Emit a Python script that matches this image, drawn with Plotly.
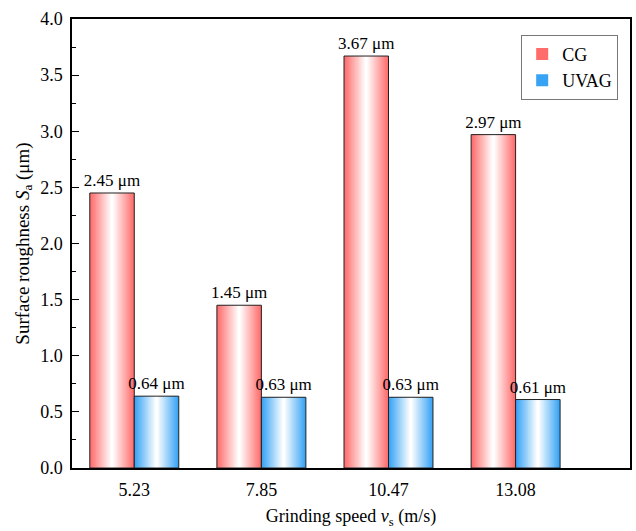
import plotly.graph_objects as go

categories = ["5.23", "7.85", "10.47", "13.08"]
cg_values = [2.45, 1.45, 3.67, 2.97]
uvag_values = [0.64, 0.63, 0.63, 0.61]
series_names = ["CG", "UVAG"]

FONT = "Liberation Serif"
BAR_W = 0.35
N_LAYERS = 18
EDGE = {"CG": (255, 108, 108), "UVAG": (55, 163, 245)}


def lerp(c, t):
    return "rgb({},{},{})".format(*[round(v + (255 - v) * t) for v in c])


fig = go.Figure()
for name, vals, center in [("CG", cg_values, -BAR_W / 2), ("UVAG", uvag_values, BAR_W / 2)]:
    for k in range(N_LAYERS):
        frac = 1 - k / N_LAYERS
        w = BAR_W * frac
        t = k / (N_LAYERS - 1)
        fig.add_trace(go.Bar(
            x=categories, y=vals, width=w, offset=center - w / 2,
            marker=dict(color=lerp(EDGE[name], t), line=dict(width=0)),
            name=name, showlegend=(k == 0),
            hoverinfo="skip",
        ))
    fig.add_trace(go.Bar(
        x=categories, y=vals, width=BAR_W, offset=center - BAR_W / 2,
        marker=dict(color="rgba(0,0,0,0)", line=dict(color="#222222", width=1)),
        text=[f"{v:.2f} μm" for v in vals], textposition="outside",
        constraintext="none", cliponaxis=False,
        textfont=dict(family=FONT, size=17, color="black"),
        showlegend=False,
    ))

fig.update_layout(
    width=636, height=531,
    barmode="overlay",
    plot_bgcolor="white", paper_bgcolor="white",
    margin=dict(l=72, r=6, t=19, b=63),
    font=dict(family=FONT, size=18, color="black"),
    legend=dict(x=0.805, y=0.965, xanchor="left", yanchor="top",
                bordercolor="#777777", borderwidth=1, bgcolor="white",
                font=dict(family=FONT, size=18), tracegroupgap=0,
                itemwidth=30),
)
fig.update_xaxes(
    type="category", categoryorder="array", categoryarray=categories,
    range=[-0.49, 3.9], showline=True, linecolor="black", linewidth=1.5,
    mirror=True, ticks="", showgrid=False, ticklabelstandoff=5, automargin=False,
    title=dict(text="Grinding speed <i>v</i><sub>s</sub> (m/s)", font=dict(size=18), standoff=10),
    tickfont=dict(size=18),
)
fig.update_yaxes(
    range=[0, 4], dtick=0.5, tickformat=".1f", showline=True, linecolor="black",
    linewidth=1.5, mirror=True, ticks="inside", ticklen=7, tickcolor="black",
    minor=dict(dtick=0.25, ticks="inside", ticklen=4, tickcolor="black"),
    showgrid=False, zeroline=False, ticklabelstandoff=4, automargin=False,
    title=dict(text="Surface roughness <i>S</i><sub>a</sub> (μm)", font=dict(size=19), standoff=6),
    tickfont=dict(size=18),
)

fig.write_html("out.html")
